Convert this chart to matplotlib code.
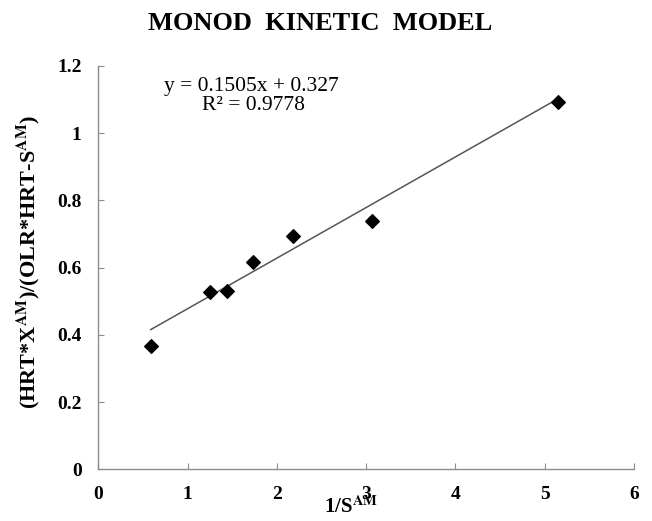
import matplotlib
matplotlib.use("Agg")
import matplotlib.pyplot as plt
import numpy as np

# Data
inv_s = [0.587, 1.251, 1.445, 1.736, 2.184, 3.068, 5.151]
y_vals = [0.367, 0.526, 0.531, 0.616, 0.694, 0.739, 1.091]
slope = 0.1505
intercept = 0.327
r2 = 0.9778
x_ticks = [0, 1, 2, 3, 4, 5, 6]
y_ticks = [0, 0.2, 0.4, 0.6, 0.8, 1.0, 1.2]
y_tick_labels = ["0", "0.2", "0.4", "0.6", "0.8", "1", "1.2"]

plt.rcParams['font.family'] = ['Liberation Serif', 'DejaVu Serif']
plt.rcParams['mathtext.fontset'] = 'stix'

W, H = 652, 521
fig = plt.figure(figsize=(W / 100, H / 100), dpi=100)
x0, y0 = 98.3, 469.3
ax = fig.add_axes([x0 / W, 1 - y0 / H, 6 * 89.3 / W, 1.2 * 336.3 / H])

xs = np.array([min(inv_s), max(inv_s)])
ax.plot(xs, slope * xs + intercept, color='#555555', lw=1.1, zorder=2)
ax.scatter(inv_s, y_vals, marker='D', s=48, color='black', zorder=3)

ax.set_xlim(0, 6)
ax.set_ylim(0, 1.2)
ax.set_xticks(x_ticks)
ax.set_yticks(y_ticks)
ax.set_yticklabels(y_tick_labels)
for s in ['top', 'right']:
    ax.spines[s].set_visible(False)
for s in ['left', 'bottom']:
    ax.spines[s].set_color('#8c8c8c')
    ax.spines[s].set_linewidth(1.0)
ax.tick_params(direction='in', length=4, color='#8c8c8c', labelsize=14, pad=12)
for lab in ax.get_xticklabels() + ax.get_yticklabels():
    lab.set_fontweight('bold')

fig.text(320 / W, 1 - 23 / H, 'MONOD  KINETIC  MODEL', ha='center', va='center',
         fontsize=19, fontweight='bold')
fig.text(251 / W, 1 - 86 / H, f'y = {slope}x + {intercept}', ha='center', va='center',
         fontsize=15.5)
fig.text(253 / W, 1 - 106 / H, f'R² = {r2}', ha='center', va='center', fontsize=15.5)

fig.text(351 / W, 1 - 507 / H, r'1/S$^{\mathbf{AM}}$', ha='center', va='center',
         fontsize=15, fontweight='bold')
fig.text(28 / W, 1 - 262 / H, r'(HRT*X$^{\mathbf{AM}}$)/(OLR*HRT-S$^{\mathbf{AM}}$)',
         ha='center', va='center', rotation=90, fontsize=16, fontweight='bold')

fig.savefig('out.png', dpi=100)
